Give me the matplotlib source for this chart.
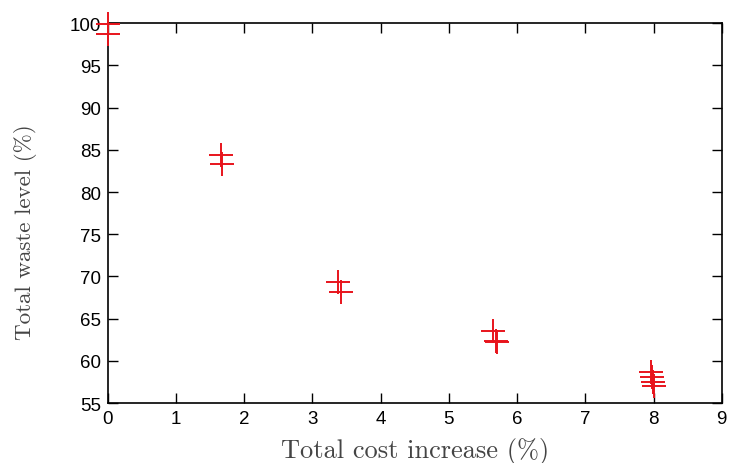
import matplotlib
matplotlib.use("Agg")
import matplotlib.pyplot as plt

cost = [0.0, 0.0, 1.66, 1.68, 3.38, 3.42, 5.65, 5.69, 5.70, 7.96, 7.98, 7.99, 8.00]
waste = [99.9, 98.7, 84.4, 83.3, 69.3, 68.2, 63.5, 62.4, 62.2, 58.7, 58.1, 57.5, 57.0]

xticks = list(range(0, 10))
yticks = list(range(55, 101, 5))

fig = plt.figure(figsize=(7.29, 4.64), dpi=100)
ax = fig.add_axes([0.148, 0.129, 0.842, 0.819])
ax.plot(cost, waste, linestyle='none', marker='+', markersize=17, markeredgewidth=1.4,
        color='#e8141c', clip_on=False, zorder=3)
ax.set_xlim(0, 9)
ax.set_ylim(55, 100)
ax.set_xticks(xticks)
ax.set_yticks(yticks)
ax.tick_params(direction='in', length=7, width=1, top=True, right=True,
               labelsize=13.5, pad=5)
for lab in ax.get_xticklabels() + ax.get_yticklabels():
    lab.set_family(['Liberation Sans', 'DejaVu Sans'])
for s in ax.spines.values():
    s.set_linewidth(1.2)
ax.set_xlabel('Total cost increase (%)', family=['cmr10', 'DejaVu Serif'], fontsize=19, color='#444444', labelpad=7)
ax.set_ylabel('Total waste level (%)', family=['cmr10', 'DejaVu Serif'], fontsize=16.6, color='#444444')
ax.yaxis.set_label_coords(-0.115, 0.453)
fig.savefig('out.png', dpi=100)
